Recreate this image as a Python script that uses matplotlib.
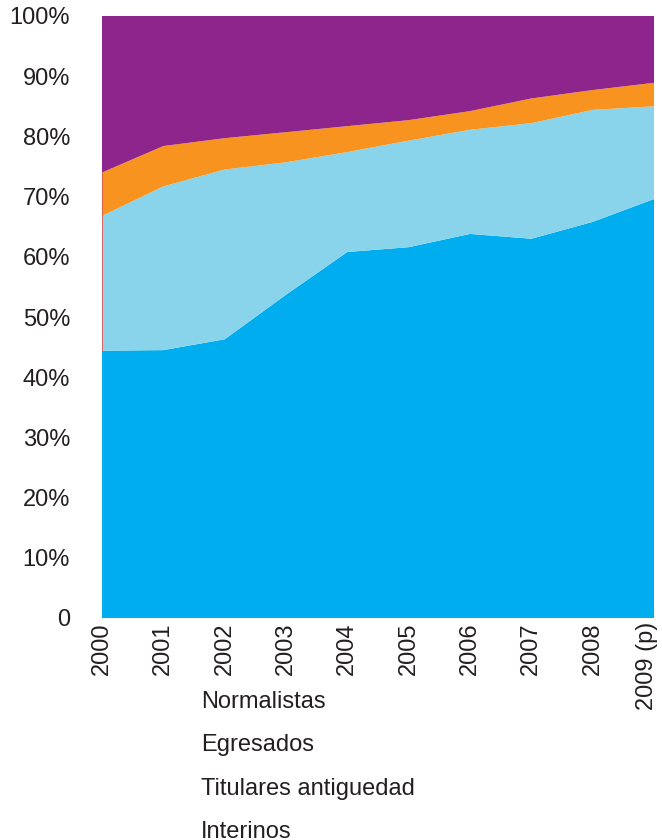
import numpy as np
import matplotlib.pyplot as plt
import matplotlib.transforms as mtransforms

plt.rcParams['font.family'] = ['Liberation Sans', 'DejaVu Sans']

years = [2000, 2001, 2002, 2003, 2004, 2005, 2006, 2007, 2008, 2009]
year_labels = ['2000', '2001', '2002', '2003', '2004', '2005', '2006', '2007', '2008', '2009 (p)']

# percentage shares per year
normalistas = [44.4, 44.5, 46.3, 53.7, 60.8, 61.6, 63.8, 63.0, 65.8, 69.6]
egresados = [22.4, 27.2, 28.2, 22.0, 16.6, 17.7, 17.3, 19.2, 18.6, 15.4]
titulares = [7.2, 6.7, 5.2, 5.0, 4.3, 3.4, 3.1, 4.1, 3.3, 3.9]
interinos = [26.0, 21.6, 20.3, 19.3, 18.3, 17.3, 15.8, 13.7, 12.3, 11.1]

series_names = ['Normalistas', 'Egresados', 'Titulares antiguedad', 'Interinos']
colors = ['#00AEEF', '#89D4EB', '#F7931E', '#8E258D']

y_ticks = [0, 10, 20, 30, 40, 50, 60, 70, 80, 90, 100]
y_labels = ['0', '10%', '20%', '30%', '40%', '50%', '60%', '70%', '80%', '90%', '100%']

txt = '#231F20'

fig = plt.figure(figsize=(6.62, 8.40), dpi=100)
ax = fig.add_axes([102/662, 1 - 618/840, 552/662, 602/840])

ax.stackplot(years, normalistas, egresados, titulares, interinos,
             colors=colors, linewidth=0, antialiased=True)

# thin edge line on the first year
base = normalistas[0]
top = normalistas[0] + egresados[0] + titulares[0]
ax.vlines(years[0], base, top, color='#E0554A', linewidth=1.2, zorder=3)

ax.set_xlim(years[0], years[-1])
ax.set_ylim(0, 100)
ax.set_xticks(years)
ax.set_xticklabels(year_labels, rotation=90, fontsize=17, color=txt, va='top', ha='center')
ax.set_yticks(y_ticks)
ax.set_yticklabels(y_labels, fontsize=17, color=txt)
ax.tick_params(axis='both', length=0)
ax.tick_params(axis='y', pad=23)
ax.tick_params(axis='x', pad=3)
for s in ax.spines.values():
    s.set_visible(False)

# nudge the last year label so it stays inside the figure
last = ax.get_xticklabels()[-1]
last.set_transform(last.get_transform() +
                   mtransforms.ScaledTranslation(-5/72, 0, fig.dpi_scale_trans))

# legend entries, text only
for i, name in enumerate(series_names):
    fig.text(201/662, 1 - (702 + 43.5*i)/840, name, fontsize=17, color=txt,
             ha='left', va='center')

fig.savefig('out.png', dpi=100)
